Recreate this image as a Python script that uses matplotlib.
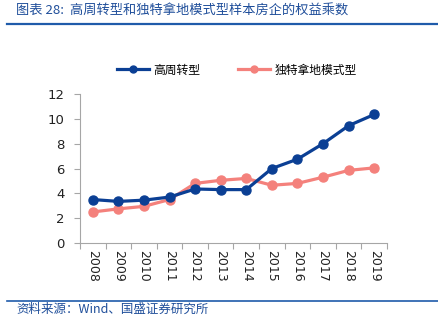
import matplotlib
matplotlib.use("Agg")
import matplotlib.pyplot as plt
from matplotlib.lines import Line2D

plt.rcParams['font.family'] = ['DejaVu Sans', 'Noto Sans CJK SC']

years = ['2008', '2009', '2010', '2011', '2012', '2013', '2014', '2015', '2016', '2017', '2018', '2019']
high_turnover = [3.5, 3.35, 3.45, 3.7, 4.35, 4.3, 4.3, 6.0, 6.75, 8.0, 9.45, 10.35]
unique_land = [2.5, 2.75, 2.95, 3.5, 4.8, 5.05, 5.2, 4.65, 4.8, 5.3, 5.85, 6.05]
series_names = ['高周转型', '独特拿地模式型']
title = '图表 28:  高周转型和独特拿地模式型样本房企的权益乘数'
source = '资料来源：Wind、国盛证券研究所'

blue = '#0B3F94'
pink = '#F4817C'
title_color = '#1F4E9A'
gray = '#A6A6A6'

W, H = 439, 326
fig = plt.figure(figsize=(W/100, H/100), dpi=100)
ax = fig.add_axes([80/W, 1-243/H, (387-80)/W, (243-94)/H])

x = list(range(len(years)))
ax.plot(x, high_turnover, color=blue, lw=2.3, marker='o', ms=6.5, zorder=3)
ax.plot(x, unique_land, color=pink, lw=2.3, marker='o', ms=6.5, zorder=2)

ax.set_xlim(-0.5, len(years)-0.5)
ax.set_ylim(0, 12)
ax.set_yticks(range(0, 13, 2))
ax.set_xticks(x)
ax.set_xticklabels(years, rotation=270, fontsize=9, color='#222222')
ax.set_xticks([i + 0.5 for i in range(-1, len(years))], minor=True)
ax.tick_params(axis='x', which='major', length=0, pad=5)
ax.tick_params(axis='x', which='minor', length=4, color=gray, width=0.8)
ax.tick_params(axis='y', length=4, color=gray, width=0.8, labelsize=9.5, labelcolor='#222222', pad=7)
for s in ['top', 'right']:
    ax.spines[s].set_visible(False)
for s in ['left', 'bottom']:
    ax.spines[s].set_color(gray)
    ax.spines[s].set_linewidth(0.8)

# legend
handles = [Line2D([], [], color=blue, lw=2.3, marker='o', ms=5),
           Line2D([], [], color=pink, lw=2.3, marker='o', ms=5)]
fig.legend(handles, series_names, loc='center', bbox_to_anchor=(237/W, 1-70/H), ncol=2,
           frameon=False, prop={'family': ['Noto Sans CJK SC'], 'size': 8.5},
           handlelength=2.7, columnspacing=3.2, handletextpad=0.4)

# title and rules
fig.text(16/W, 1-11/H, title, fontsize=9.5, color=title_color, style='italic',
         family=['Noto Sans CJK SC', 'DejaVu Sans'], va='center', ha='left')
fig.add_artist(Line2D([7/W, 1.0], [1-24/H, 1-24/H], color='#1F5BAA', lw=1.6))
fig.add_artist(Line2D([7/W, 1.0], [1-300.5/H, 1-300.5/H], color='#1F5BAA', lw=1.2))
fig.text(16/W, 1-309/H, source, fontsize=9, color=title_color, style='italic',
         family=['Noto Sans CJK SC', 'DejaVu Sans'], va='center', ha='left')

fig.savefig('out.png', dpi=100)
